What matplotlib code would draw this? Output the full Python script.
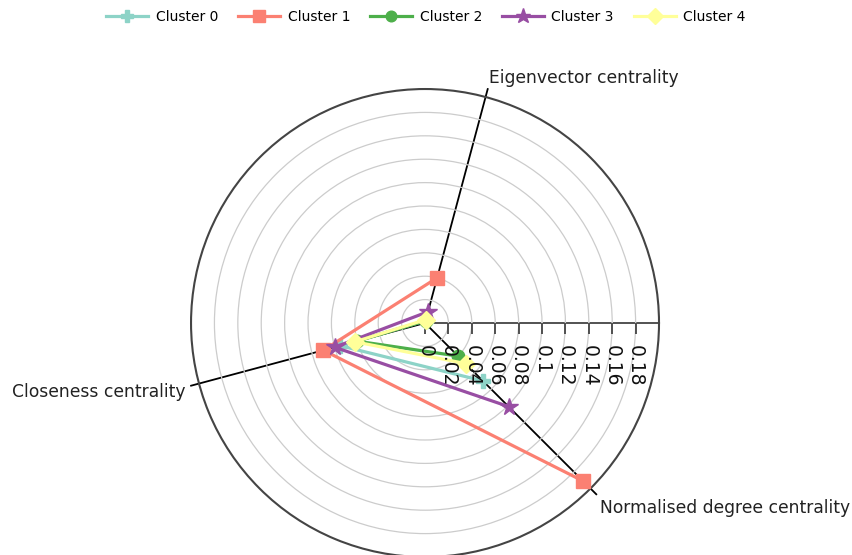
import numpy as np
import matplotlib.pyplot as plt
from matplotlib.lines import Line2D

# axis order goes counter-clockwise: eigenvector -> closeness -> degree
categories = ["Eigenvector centrality", "Closeness centrality", "Normalised degree centrality"]
cat_angles_deg = [75, 195, 315]

cluster_names = ["Cluster 0", "Cluster 1", "Cluster 2", "Cluster 3", "Cluster 4"]
cluster0 = [0.002, 0.075, 0.070]
cluster1 = [0.040, 0.090, 0.191]
cluster2 = [0.002, 0.060, 0.040]
cluster3 = [0.010, 0.080, 0.101]
cluster4 = [0.003, 0.062, 0.049]

radial_ticks = [0, 0.02, 0.04, 0.06, 0.08, 0.10, 0.12, 0.14, 0.16, 0.18]
radial_labels = ["0", "0.02", "0.04", "0.06", "0.08", "0.1", "0.12", "0.14", "0.16", "0.18"]
r_max = 0.2

colors = ["#8dd3c7", "#fb8072", "#4daf4a", "#984ea3", "#ffff99"]
markers = ["P", "s", "o", "*", "D"]
msizes = [10, 10, 9, 13, 9]

angles = np.deg2rad(cat_angles_deg)

fig = plt.figure(figsize=(8.52, 5.55), dpi=100)
ax = fig.add_axes([0.2242, -0.0036, 0.5493, 0.8432], projection="polar")
ax.set_ylim(0, r_max)
ax.set_yticks(radial_ticks[1:])
ax.set_yticklabels([])
ax.set_xticks([])
ax.yaxis.grid(True, color="#cccccc", lw=0.9)
ax.spines["polar"].set_color("#444444")
ax.spines["polar"].set_linewidth(1.5)

# angular axis lines with ticks poking out of the circle
for th in angles:
    ax.plot([th, th], [0, r_max + 0.007], color="black", lw=1.3, clip_on=False, zorder=1.5)

# radial axis along 0 degrees, ticks hanging down
ax.plot([0, 0], [0, r_max], color="#444444", lw=1.3, zorder=1.5)
ax.plot(np.zeros(len(radial_ticks)), radial_ticks, ls="none", marker=3, ms=8, mew=1.3,
        color="#444444", zorder=1.6)

all_clusters = [cluster0, cluster1, cluster2, cluster3, cluster4]
for vals, c, m, s in zip(all_clusters, colors, markers, msizes):
    ax.plot(angles, vals, color=c, lw=2.3, marker=m, ms=s, mec=c, zorder=3, clip_on=False)

for r, lab in zip(radial_ticks, radial_labels):
    ax.annotate(lab, xy=(0, r), xytext=(0, -16), textcoords="offset points",
                rotation=-90, ha="center", va="top", fontsize=13.5, color="#111111", zorder=5)

label_offsets = [(2.5, 7), (-9.5, -6), (7, -7.5)]
label_align = [("left", "bottom"), ("right", "center"), ("left", "top")]
for th, name, off, (ha, va) in zip(angles, categories, label_offsets, label_align):
    ax.annotate(name, xy=(th, r_max), xytext=off, textcoords="offset points",
                ha=ha, va=va, fontsize=12.3, color="#222222", annotation_clip=False)

handles = [Line2D([], [], color=c, lw=2.3, marker=m, ms=s * 0.85, mec=c)
           for c, m, s in zip(colors, markers, msizes)]
fig.legend(handles, cluster_names, loc="upper center", bbox_to_anchor=(0.5, 1.005), ncol=5,
           frameon=False, fontsize=10, handlelength=3.0, columnspacing=1.45, handletextpad=0.55)

fig.savefig("out.png", dpi=100)
